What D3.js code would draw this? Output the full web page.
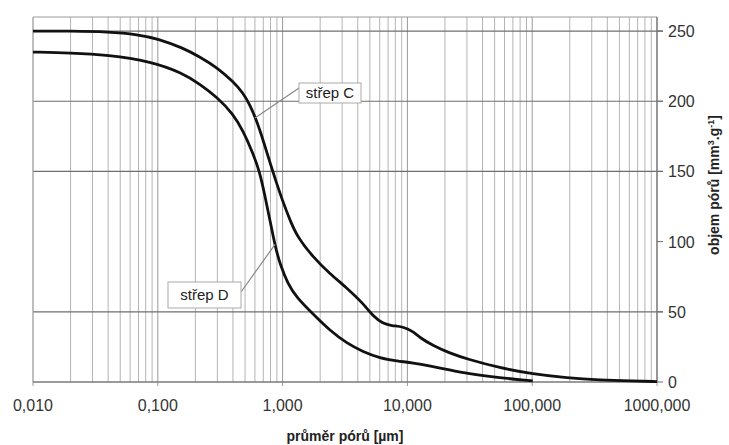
<!DOCTYPE html>
<html><head><meta charset="utf-8">
<script src="https://cdn.jsdelivr.net/npm/d3@7"></script>
<style>
body{margin:0;background:#fff;}
svg{display:block;font-family:"Liberation Sans",Arial,sans-serif;}
</style></head>
<body><svg id="c" width="729" height="445"></svg>
<script>
const diameterC = [0.01,0.02,0.04,0.07,0.1,0.159,0.218,0.298,0.401,0.482,0.55,0.62,0.70,0.80,0.90,1.0,1.15,1.3,1.75,2.4,3.28,4.41,5.3,6.37,7.5,9.2,11.1,12.6,16,21.9,30,55,101,190,349,643,1000];
const volumeC   = [250,250,249.5,247.5,244.5,238,231.5,224,214,206,197,186,172,155,141,129,115,104,89,77,67,56,47,41.5,40,39.5,36,31.5,26,20.5,16.4,10,5.7,2.9,1.4,0.7,0.3];
const diameterD = [0.01,0.02,0.04,0.0866,0.159,0.218,0.298,0.401,0.482,0.579,0.659,0.72,0.793,0.87,0.953,1.10,1.30,1.75,2.40,3.28,4.41,6.03,8.26,11.1,15.2,21.9,30,55,101];
const volumeD   = [235,234.5,233,228.5,220,212,203,191,179,163,149,133,115,97,84,70,60,48.5,36.5,27.5,21.5,17,15,13.6,11.4,8.5,6,3,0.8];
const xTickValues = [0.01,0.1,1,10,100,1000];
const xTickLabels = ["0,010","0,100","1,000","10,000","100,000","1000,000"];
const yTickValues = [0,50,100,150,200,250];
const yGridValues = [50,150,200,250];
const seriesNames = ["střep C","střep D"];

const svg = d3.select("#c");
const L=33,R=657,T=17,B=382;
const x = d3.scaleLog().domain([0.01,1000]).range([L,R]);
const y = d3.scaleLinear().domain([0,260]).range([B,T]);

const minor=[];
for(let e=-2;e<3;e++){for(let k=2;k<=9;k++){minor.push(k*Math.pow(10,e));}}
svg.append("g").selectAll("line").data(minor).join("line")
  .attr("x1",d=>x(d)).attr("x2",d=>x(d)).attr("y1",T).attr("y2",B)
  .attr("stroke","#b4b4b4").attr("stroke-width",1);
svg.append("g").selectAll("line").data(xTickValues).join("line")
  .attr("x1",d=>x(d)).attr("x2",d=>x(d)).attr("y1",T).attr("y2",B+4)
  .attr("stroke","#9a9a9a").attr("stroke-width",1);
svg.append("g").selectAll("line").data(yGridValues).join("line")
  .attr("x1",L).attr("x2",R+6).attr("y1",d=>y(d)).attr("y2",d=>y(d))
  .attr("stroke","#6e6e6e").attr("stroke-width",1.2);
svg.append("line").attr("x1",L).attr("x2",R).attr("y1",T).attr("y2",T).attr("stroke","#9a9a9a");
svg.append("line").attr("x1",L).attr("x2",L).attr("y1",T).attr("y2",B).attr("stroke","#b0b0b0");
svg.append("line").attr("x1",R).attr("x2",R).attr("y1",T).attr("y2",B).attr("stroke","#7a7a7a").attr("stroke-width",1.3);
svg.append("line").attr("x1",L).attr("x2",R).attr("y1",B).attr("y2",B).attr("stroke","#7a7a7a").attr("stroke-width",1.3);
svg.append("g").selectAll("line").data(yTickValues).join("line")
  .attr("x1",R).attr("x2",R+6).attr("y1",d=>y(d)).attr("y2",d=>y(d)).attr("stroke","#6e6e6e");

svg.append("g").selectAll("text").data(xTickValues).join("text")
  .attr("x",d=>x(d)).attr("y",411).attr("text-anchor","middle")
  .attr("font-size",16).attr("fill","#333").text((d,i)=>xTickLabels[i]);
svg.append("g").selectAll("text").data(yTickValues).join("text")
  .attr("x",668).attr("y",d=>y(d)+6).attr("text-anchor","start")
  .attr("font-size",16).attr("fill","#333").text(d=>d);

svg.append("text").attr("x",(L+R)/2).attr("y",441).attr("text-anchor","middle")
  .attr("font-size",14).attr("font-weight","bold").attr("fill","#222").text("průměr pórů [µm]");
const yt = svg.append("text").attr("transform","translate(719,185) rotate(-90)").attr("text-anchor","middle")
  .attr("font-size",14).attr("font-weight","bold").attr("fill","#222");
yt.append("tspan").text("objem pórů [mm");
yt.append("tspan").attr("font-size",9).attr("dy",-5).text("3");
yt.append("tspan").attr("dy",5).text(".g");
yt.append("tspan").attr("font-size",9).attr("dy",-5).text("-1");
yt.append("tspan").attr("dy",5).text("]");

const line = d3.line().x(d=>x(d[0])).y(d=>y(d[1])).curve(d3.curveBasis);
const dataC = diameterC.map((d,i)=>[d,volumeC[i]]);
const dataD = diameterD.map((d,i)=>[d,volumeD[i]]);
[dataC,dataD].forEach(dd=>{
  svg.append("path").datum(dd).attr("d",line).attr("fill","none")
    .attr("stroke","#111").attr("stroke-width",2.8).attr("stroke-linejoin","round");
});

function label(name, bx, by, bw, bh, px, py, qx, qy){
  svg.append("line").attr("x1",px).attr("y1",py).attr("x2",qx).attr("y2",qy)
    .attr("stroke","#888").attr("stroke-width",1.2);
  svg.append("rect").attr("x",bx).attr("y",by).attr("width",bw).attr("height",bh)
    .attr("fill","#fff").attr("stroke","#aaa").attr("stroke-width",1);
  svg.append("text").attr("x",bx+bw/2).attr("y",by+bh/2+5).attr("text-anchor","middle")
    .attr("font-size",15).attr("fill","#222").text(name);
}
label(seriesNames[0], 299, 83, 62, 20, 299, 88, x(0.6), y(188));
label(seriesNames[1], 168, 282, 73, 26, 241, 292, x(0.87), y(98));
</script></body></html>
